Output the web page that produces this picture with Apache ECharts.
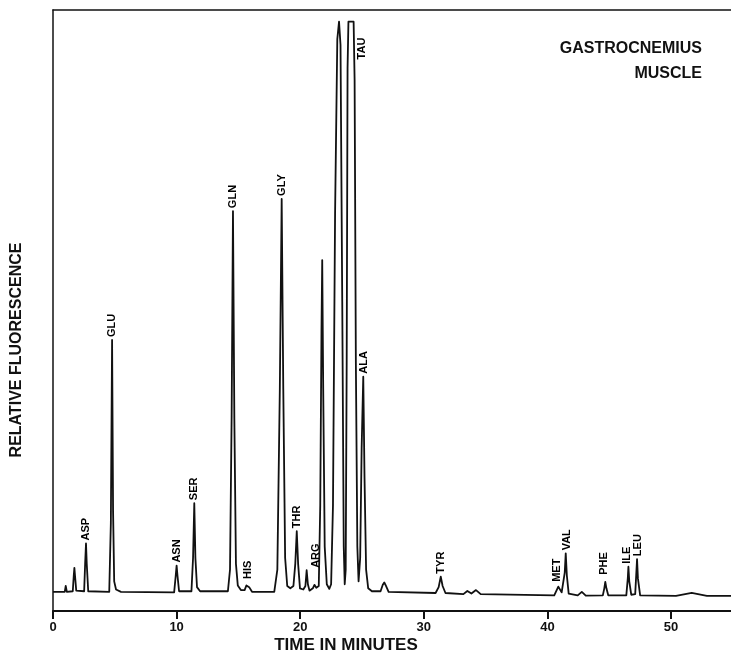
<!DOCTYPE html>
<html>
	<head>
		<meta charset="utf-8">
		<title></title>
		<script src="https://cdn.jsdelivr.net/npm/echarts@6.0.0/dist/echarts.min.js"></script>
		<style>
			body{ margin:0; background:#fff; }
			#chart{ width:731px; height:654px; }
		</style>
	</head>
	<body>
		<div id="chart"></div>
		<script>
			// trace: [minutes, relative fluorescence]
			const trace = [
				[0, 0.2], [0.95, 0.2], [1.03, 1.2], [1.12, 0.2],
				[1.6, 0.3], [1.68, 3.0], [1.73, 4.3], [1.78, 3.0], [1.88, 0.4],
				[2.52, 0.3], [2.6, 5.0], [2.67, 8.5], [2.73, 5.0], [2.85, 0.3],
				[4.55, 0.2], [4.68, 12], [4.78, 43.4], [4.86, 14], [4.95, 2.0], [5.1, 0.6], [5.5, 0.2],
				[9.8, 0.1], [9.93, 3.0], [10.0, 4.7], [10.07, 3.0], [10.2, 0.3],
				[11.2, 0.3], [11.33, 6], [11.43, 15.4], [11.52, 6], [11.65, 1.0], [11.9, 0.3],
				[14.15, 0.3], [14.32, 4], [14.45, 30], [14.56, 65.5], [14.67, 30], [14.8, 5], [14.95, 1.3], [15.2, 0.5],
				[15.5, 0.5], [15.65, 1.3], [15.75, 1.5], [15.87, 1.0], [16.1, 0.2],
				[17.9, 0.2], [18.15, 4], [18.35, 35], [18.5, 67.6], [18.63, 35], [18.78, 6], [18.95, 1.2], [19.2, 0.8],
				[19.45, 1.2], [19.6, 5], [19.72, 10.6], [19.83, 5], [19.98, 0.8], [20.25, 0.6],
				[20.42, 1.2], [20.52, 3.9], [20.62, 1.5], [20.75, 0.4],
				[21.02, 0.8], [21.15, 1.4], [21.3, 0.9],
				[21.5, 1.2], [21.62, 15], [21.72, 45], [21.78, 57.1], [21.86, 35], [21.98, 8], [22.15, 1.5], [22.35, 0.7],
				[22.5, 1.5], [22.65, 15], [22.82, 65], [23.0, 95], [23.14, 98], [23.26, 94], [23.4, 50], [23.52, 8], [23.6, 1.5],
				[23.68, 4], [23.76, 40], [23.83, 90], [23.9, 98], [24.32, 98], [24.4, 88], [24.5, 40], [24.62, 8], [24.72, 2.0],
				[24.85, 6], [24.97, 25], [25.1, 37.1], [25.2, 20], [25.33, 4], [25.5, 0.8], [25.8, 0.3],
				[26.5, 0.3], [26.68, 1.4], [26.8, 1.8], [26.92, 1.3], [27.15, 0.2],
				[30.95, 0.0], [31.2, 1.0], [31.37, 2.8], [31.52, 1.2], [31.75, 0.0],
				[33.2, -0.2], [33.52, 0.35], [33.85, -0.1], [34.22, 0.5], [34.6, -0.2],
				[40.55, -0.4], [40.88, 1.1], [41.15, 0.1], [41.4, 3.5], [41.48, 6.8], [41.57, 3.0], [41.72, -0.1],
				[42.45, -0.4], [42.78, 0.2], [43.1, -0.45],
				[44.48, -0.4], [44.6, 0.8], [44.68, 1.9], [44.77, 0.8], [44.92, -0.4],
				[46.38, -0.4], [46.5, 2.5], [46.55, 4.5], [46.62, 2.0], [46.78, -0.3],
				[47.1, -0.2], [47.18, 3.0], [47.25, 5.8], [47.32, 2.5], [47.5, -0.4],
				[50.4, -0.5], [51.67, 0.0], [52.9, -0.5], [54.85, -0.5]
			];

			// peak names and where each name sits (minutes, height)
			const peakNames = ['ASP', 'GLU', 'ASN', 'SER', 'GLN', 'HIS', 'GLY', 'THR', 'ARG', 'TAU', 'ALA', 'TYR', 'MET', 'VAL', 'PHE', 'ILE', 'LEU'];
			const peakTimes = [2.67, 4.8, 10.0, 11.43, 14.56, 15.8, 18.5, 19.75, 21.3, 25.0, 25.15, 31.37, 40.8, 41.6, 44.6, 46.45, 47.3];
			const peakHeights = [8.5, 43.4, 4.7, 15.4, 65.5, 1.9, 67.6, 10.6, 3.8, 91, 37.1, 2.8, 1.4, 6.8, 2.6, 4.5, 5.8];

			const timeMax = 54.85;
			const xTicks = [0, 10, 20, 30, 40, 50];

			const font = "'Liberation Sans', Arial, sans-serif";
			const ink = '#111';

			const chart = echarts.init(document.getElementById('chart'), null, {renderer: 'canvas'});
			const option = {
				backgroundColor: '#fff',
				animation: false,
				grid: {left: 53, right: 0, top: 10, bottom: 43},
				xAxis: [{
					type: 'value',
					min: 0,
					max: timeMax,
					interval: 10,
					axisLine: {show: true, onZero: false, lineStyle: {color: ink, width: 2}},
					axisTick: {show: true, length: 8, lineStyle: {color: ink, width: 2}},
					splitLine: {show: false},
					axisLabel: {
						color: ink, fontFamily: font, fontWeight: 'bold', fontSize: 13, margin: 10,
						showMaxLabel: false,
						formatter: v => xTicks.indexOf(v) >= 0 ? String(v) : ''
					}
				}, {
					type: 'value',
					position: 'top',
					min: 0,
					max: timeMax,
					axisLine: {show: true, onZero: false, lineStyle: {color: ink, width: 1.5}},
					axisTick: {show: false},
					axisLabel: {show: false},
					splitLine: {show: false}
				}],
				yAxis: {
					type: 'value',
					min: -3.09,
					max: 100,
					axisLine: {show: true, onZero: false, lineStyle: {color: ink, width: 1.5}},
					axisTick: {show: false},
					axisLabel: {show: false},
					splitLine: {show: false}
				},
				graphic: [{
					type: 'text',
					x: 17, y: 350,
					rotation: Math.PI / 2,
					style: {text: 'RELATIVE FLUORESCENCE', fill: ink, font: 'bold 16px ' + font, align: 'center', verticalAlign: 'middle'}
				}, {
					type: 'text',
					x: 346, y: 645,
					style: {text: 'TIME IN MINUTES', fill: ink, font: 'bold 17px ' + font, align: 'center', verticalAlign: 'middle'}
				}, {
					type: 'text',
					x: 702, y: 49,
					style: {text: 'GASTROCNEMIUS', fill: ink, font: 'bold 16px ' + font, align: 'right', verticalAlign: 'middle'}
				}, {
					type: 'text',
					x: 702, y: 74,
					style: {text: 'MUSCLE', fill: ink, font: 'bold 16px ' + font, align: 'right', verticalAlign: 'middle'}
				}],
				series: [{
					type: 'line',
					data: trace,
					showSymbol: false,
					smooth: false,
					lineStyle: {color: ink, width: 1.8, join: 'round'},
					z: 3
				}, {
					type: 'scatter',
					symbolSize: 0,
					itemStyle: {opacity: 1},
					data: peakNames.map((n, i) => ({name: n, value: [peakTimes[i], peakHeights[i]]})),
					label: {
						show: true,
						formatter: p => p.name,
						position: 'top',
						distance: 3,
						rotate: 90,
						align: 'left',
						verticalAlign: 'middle',
						color: '#000',
						opacity: 1,
						fontFamily: font,
						fontWeight: 'bold',
						fontSize: 11
					},
					z: 4
				}]
			};
			chart.setOption(option);
		</script>
	</body>
</html>
